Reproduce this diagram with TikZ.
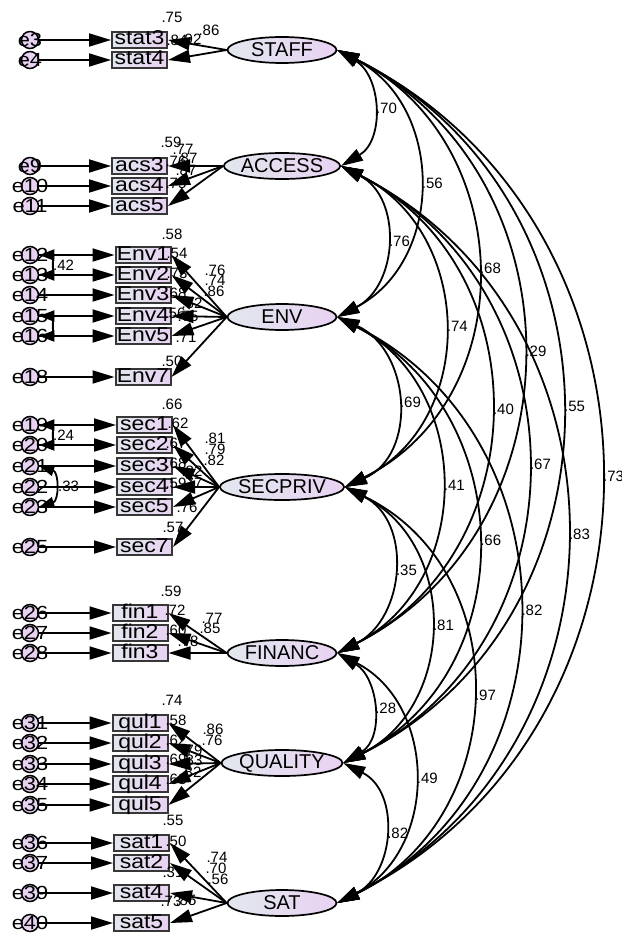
\documentclass[tikz,border=0pt]{standalone}
\usepackage{fontspec}
\setmainfont{Liberation Sans}
\newfontfamily\boxfont{Liberation Sans}[FakeStretch=1.15]
\usetikzlibrary{arrows.meta,shapes.geometric}
\definecolor{lgb}{RGB}{226,231,238}
\definecolor{lav}{RGB}{232,210,242}
\definecolor{bord}{RGB}{55,55,55}
\newcounter{numc}
\newcommand\numlab[3]{\stepcounter{numc}\node[num] (n\arabic{numc}) at (#1,#2) {#3};}
\newcommand\cvarc[6]{%
  \pgfmathsetmacro\ct{#5/#4}%
  \pgfmathsetmacro\cphi{2*atan(2*\ct)}%
  \pgfmathsetmacro\cloose{(4/3)*(0.25+\ct*\ct)/0.3915}%
  \pgfmathsetmacro\cout{-90+\cphi}%
  \pgfmathsetmacro\cin{90-\cphi}%
  \draw[#1] (#2.east) to[out=\cout, in=\cin, looseness=\cloose] node[covlab]{#6} (#3.east);
}
\begin{document}
\begin{tikzpicture}[x=1pt,y=-1pt,
  lat/.style={ellipse, draw=black, line width=1.7pt, minimum width=109pt, minimum height=26pt, inner sep=0pt, left color=lgb, right color=lav, font=\fontsize{20}{20}\selectfont},
  obs/.style={rectangle, draw=bord, line width=2pt, minimum width=55pt, minimum height=16pt, inner sep=0pt, text height=13pt, text depth=3pt, left color=lgb, right color=lav, font=\boxfont\fontsize{20}{20}\selectfont},
  err/.style={circle, draw=black, line width=1.5pt, minimum size=17pt, inner sep=0pt, fill=lav},
  errlab/.style={font=\boxfont\fontsize{19}{19}\selectfont, inner sep=0pt},
  num/.style={font=\fontsize{15}{15}\selectfont, inner sep=0pt},
  covlab/.style={right, xshift=2pt, inner sep=1pt, font=\fontsize{15}{15}\selectfont},
  arr/.style={-{Triangle[length=22pt,width=13pt]}, line width=1.8pt},
  cov/.style={{Triangle[length=22pt,width=13pt]}-{Triangle[length=22pt,width=13pt]}, line width=1.8pt},
  ecov/.style={{Triangle[length=15pt,width=11pt]}-{Triangle[length=15pt,width=11pt]}, line width=1.8pt}
]
\useasboundingbox (0,0) rectangle (621,934);

% latent variables
\node[lat] (STAFF) at (282,50) {STAFF};
\node[lat] (ACCESS) at (282,166) {ACCESS};
\node[lat] (ENV) at (282,317) {ENV};
\node[lat] (SECPRIV) at (282,487) {SECPRIV};
\node[lat] (FINANC) at (282,653) {FINANC};
\node[lat] (QUALITY) at (282,763) {QUALITY};
\node[lat] (SAT) at (282,903) {SAT};

% observed variables
\node[obs] (stat3) at (139.5,40) {stat3};
\node[obs] (stat4) at (139.5,60) {stat4};
\node[obs] (acs3) at (139.5,166) {acs3};
\node[obs] (acs4) at (139.5,186) {acs4};
\node[obs] (acs5) at (139.5,206) {acs5};
\node[obs] (Env1) at (143,255) {Env1};
\node[obs] (Env2) at (143,275) {Env2};
\node[obs] (Env3) at (143,295) {Env3};
\node[obs] (Env4) at (143,316) {Env4};
\node[obs] (Env5) at (143,336) {Env5};
\node[obs] (Env7) at (143,377) {Env7};
\node[obs] (sec1) at (144.5,425) {sec1};
\node[obs] (sec2) at (144.5,445) {sec2};
\node[obs] (sec3) at (144.5,466) {sec3};
\node[obs] (sec4) at (144.5,487) {sec4};
\node[obs] (sec5) at (144.5,507) {sec5};
\node[obs] (sec7) at (144.5,547) {sec7};
\node[obs] (fin1) at (140,613) {fin1};
\node[obs] (fin2) at (140,633) {fin2};
\node[obs] (fin3) at (140,653) {fin3};
\node[obs] (qul1) at (140,723) {qul1};
\node[obs] (qul2) at (140,743) {qul2};
\node[obs] (qul3) at (140,764) {qul3};
\node[obs] (qul4) at (140,784) {qul4};
\node[obs] (qul5) at (140,805) {qul5};
\node[obs] (sat1) at (141.5,843) {sat1};
\node[obs] (sat2) at (141.5,863) {sat2};
\node[obs] (sat4) at (141.5,893) {sat4};
\node[obs] (sat5) at (141.5,923) {sat5};

% error terms
\foreach \e/\yy in {e3/40,e4/60,e9/166,e10/186,e11/206,e12/255,e13/275,e14/295,e15/316,e16/336,e18/377,e19/425,e20/445,e21/466,e22/487,e23/507,e25/547,e26/613,e27/633,e28/653,e31/723,e32/743,e33/764,e34/784,e35/805,e36/843,e37/863,e39/893,e40/923}
  \node[err, label={[errlab]center:\e}] (\e) at (30,\yy) {};

% numeric labels (R-squared and loadings)
\numlab{172}{17}{.75}
\numlab{177}{40}{.84}
\numlab{191}{39}{.92}
\numlab{209}{30}{.86}
\numlab{171}{142}{.59}
\numlab{183}{149}{.77}
\numlab{176}{161}{.76}
\numlab{187}{158}{.87}
\numlab{176}{183}{.75}
\numlab{186}{170}{.87}
\numlab{172}{234}{.58}
\numlab{177}{253}{.54}
\numlab{177}{273}{.73}
\numlab{176}{293}{.68}
\numlab{175}{313}{.56}
\numlab{172}{361}{.50}
\numlab{215}{270}{.76}
\numlab{215}{280}{.74}
\numlab{214}{291}{.86}
\numlab{192}{303}{.82}
\numlab{188}{316}{.75}
\numlab{186}{337}{.71}
\numlab{172}{404}{.66}
\numlab{178}{423}{.62}
\numlab{176}{443}{.67}
\numlab{176}{463}{.68}
\numlab{176}{483}{.59}
\numlab{173}{527}{.57}
\numlab{215}{438}{.81}
\numlab{215}{449}{.79}
\numlab{214}{460}{.82}
\numlab{192}{471}{.82}
\numlab{192}{483}{.77}
\numlab{187}{507}{.76}
\numlab{171}{591}{.59}
\numlab{175}{610}{.72}
\numlab{176}{630}{.60}
\numlab{212}{618}{.77}
\numlab{210}{628}{.85}
\numlab{188}{641}{.78}
\numlab{172}{700}{.74}
\numlab{176}{720}{.58}
\numlab{176}{740}{.62}
\numlab{176}{759}{.69}
\numlab{176}{779}{.68}
\numlab{213}{729}{.86}
\numlab{212}{740}{.76}
\numlab{192}{750}{.79}
\numlab{192}{760}{.83}
\numlab{191}{772}{.82}
\numlab{173}{820}{.55}
\numlab{176}{841}{.50}
\numlab{173}{872}{.31}
\numlab{171}{901}{.73}
\numlab{186}{900}{.85}
\numlab{217}{857}{.74}
\numlab{216}{868}{.70}
\numlab{218}{879}{.56}

% loadings
\foreach \b in {stat3,stat4} \draw[arr] (STAFF.west) -- (\b.east);
\foreach \b in {acs3,acs4,acs5} \draw[arr] (ACCESS.west) -- (\b.east);
\foreach \b in {Env1,Env2,Env3,Env4,Env5,Env7} \draw[arr] (ENV.west) -- (\b.east);
\foreach \b in {sec1,sec2,sec3,sec4,sec5,sec7} \draw[arr] (SECPRIV.west) -- (\b.east);
\foreach \b in {fin1,fin2,fin3} \draw[arr] (FINANC.west) -- (\b.east);
\foreach \b in {qul1,qul2,qul3,qul4,qul5} \draw[arr] (QUALITY.west) -- (\b.east);
\foreach \b in {sat1,sat2,sat4,sat5} \draw[arr] (SAT.west) -- (\b.east);

% error arrows
\foreach \e/\b in {e3/stat3,e4/stat4,e9/acs3,e10/acs4,e11/acs5,e12/Env1,e13/Env2,e14/Env3,e15/Env4,e16/Env5,e18/Env7,e19/sec1,e20/sec2,e21/sec3,e22/sec4,e23/sec5,e25/sec7,e26/fin1,e27/fin2,e28/fin3,e31/qul1,e32/qul2,e33/qul3,e34/qul4,e35/qul5,e36/sat1,e37/sat2,e39/sat4,e40/sat5}
  \draw[arr] (\e.east) -- (\b.west);

% error covariances
\cvarc{ecov}{e12}{e13}{20}{10}{.42}
\cvarc{ecov}{e15}{e16}{20}{10}{}
\cvarc{ecov}{e19}{e20}{20}{10}{.24}
\cvarc{ecov}{e21}{e23}{41}{15}{.33}

% factor covariances
\cvarc{cov}{STAFF}{ACCESS}{116}{33}{.70}
\cvarc{cov}{STAFF}{ENV}{267}{81}{.56}
\cvarc{cov}{STAFF}{SECPRIV}{437}{135}{.68}
\cvarc{cov}{STAFF}{FINANC}{603}{185}{.29}
\cvarc{cov}{STAFF}{QUALITY}{713}{220}{.55}
\cvarc{cov}{STAFF}{SAT}{853}{263}{.73}
\cvarc{cov}{ACCESS}{ENV}{151}{46}{.76}
\cvarc{cov}{ACCESS}{SECPRIV}{321}{100}{.74}
\cvarc{cov}{ACCESS}{FINANC}{487}{150}{.40}
\cvarc{cov}{ACCESS}{QUALITY}{597}{184}{.67}
\cvarc{cov}{ACCESS}{SAT}{737}{226}{.83}
\cvarc{cov}{ENV}{SECPRIV}{170}{55}{.69}
\cvarc{cov}{ENV}{FINANC}{336}{103}{.41}
\cvarc{cov}{ENV}{QUALITY}{446}{136}{.66}
\cvarc{cov}{ENV}{SAT}{586}{181}{.82}
\cvarc{cov}{SECPRIV}{FINANC}{166}{51}{.35}
\cvarc{cov}{SECPRIV}{QUALITY}{276}{85}{.81}
\cvarc{cov}{SECPRIV}{SAT}{416}{130}{.97}
\cvarc{cov}{FINANC}{QUALITY}{110}{31}{.28}
\cvarc{cov}{FINANC}{SAT}{250}{76}{.49}
\cvarc{cov}{QUALITY}{SAT}{140}{43}{.82}
\end{tikzpicture}
\end{document}
